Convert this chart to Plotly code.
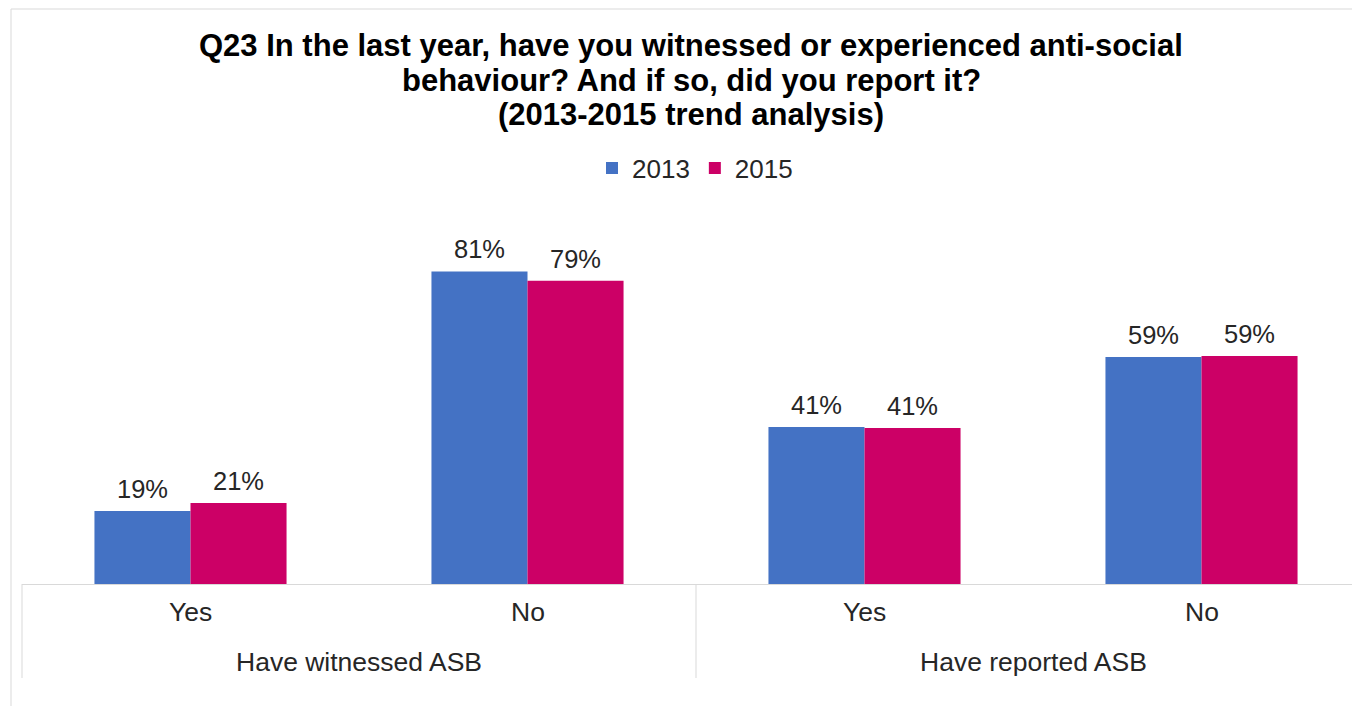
import plotly.graph_objects as go

groups = ["Have witnessed ASB", "Have witnessed ASB", "Have reported ASB", "Have reported ASB"]
answers = ["Yes", "No", "Yes", "No"]
group_labels = ["Have witnessed ASB", "Have reported ASB"]
series_names = ["2013", "2015"]
values_2013 = [19.0, 81.4, 40.9, 59.1]
values_2015 = [21.1, 79.0, 40.6, 59.4]
colors = ["#4472C4", "#CC0066"]
title_lines = [
    "Q23 In the last year, have you witnessed or experienced anti-social",
    "behaviour? And if so, did you report it?",
    "(2013-2015 trend analysis)",
]

FONT = "Liberation Sans, Arial, sans-serif"
TXT = "#262626"
GRID = "#d9d9d9"

# page has an 8px body margin; figure placed at (8, 8) and kept inside the window
W, H = 1344, 698
L, R, T, B = 14, 0, 192, 122
plot_w = W - L - R
plot_h = H - T - B
PX0, PY0 = 8 + L, 8 + T          # plot-area top-left in page pixels
PY1 = PY0 + plot_h               # axis baseline in page pixels


def px_x(px):
    return (px - PX0) / plot_w


def px_y(py):
    return (PY1 - py) / plot_h


XR = [-0.5, -0.5 + plot_w / 337.0]


def idx_x(i):
    return (i - XR[0]) / (XR[1] - XR[0])


fig = go.Figure()
for name, vals, col in zip(series_names, [values_2013, values_2015], colors):
    fig.add_trace(go.Bar(
        x=[groups, answers], y=vals, name=name,
        marker=dict(color=col, line=dict(width=0)),
        texttemplate="<span style='font-size:25.5px'>%{y:.0f}%</span><br>&nbsp;",
        textposition="outside",
        textfont=dict(size=7, color=TXT, family=FONT),
        cliponaxis=False,
    ))

annotations = []
for k, line in enumerate(title_lines):
    annotations.append(dict(
        text="<b>" + line + "</b>", xref="paper", yref="paper",
        x=px_x(691), y=px_y(45 + 35 * k), xanchor="center", yanchor="middle",
        showarrow=False, font=dict(size=31, color="black", family=FONT)))

for i, ans in enumerate(answers):
    annotations.append(dict(
        text=ans, xref="paper", yref="paper", x=idx_x(i), y=px_y(612),
        xanchor="center", yanchor="middle", showarrow=False,
        font=dict(size=26.5, color=TXT, family=FONT)))

for g, lab in enumerate(group_labels):
    annotations.append(dict(
        text=lab, xref="paper", yref="paper", x=idx_x(2 * g + 0.5), y=px_y(662),
        xanchor="center", yanchor="middle", showarrow=False,
        font=dict(size=26.5, color=TXT, family=FONT)))

shapes = []
for b in [-0.5, 1.5]:
    shapes.append(dict(type="line", xref="paper", yref="paper",
                       x0=idx_x(b), x1=idx_x(b), y0=px_y(584), y1=px_y(678),
                       line=dict(color=GRID, width=1)))
shapes.append(dict(type="rect", xref="paper", yref="paper",
                   x0=px_x(11), x1=1.02, y0=px_y(730), y1=px_y(9),
                   line=dict(color=GRID, width=1), fillcolor="rgba(0,0,0,0)",
                   layer="below"))

fig.update_layout(
    width=W, height=H,
    margin=dict(l=L, r=R, t=T, b=B),
    paper_bgcolor="white", plot_bgcolor="white",
    barmode="group", bargap=0.43, bargroupgap=0,
    font=dict(family=FONT, color=TXT),
    legend=dict(orientation="h", x=px_x(695), xanchor="center",
                y=px_y(168), yanchor="middle",
                font=dict(size=26, color=TXT), traceorder="normal",
                itemwidth=30),
    showlegend=True,
    xaxis=dict(type="multicategory", range=XR,
               showline=True, linecolor=GRID, linewidth=1,
               showdividers=False, showticklabels=False, ticks=""),
    yaxis=dict(range=[0, 100], visible=False, showgrid=False, zeroline=False),
    annotations=annotations,
    shapes=shapes,
)

fig.write_html("out.html")
